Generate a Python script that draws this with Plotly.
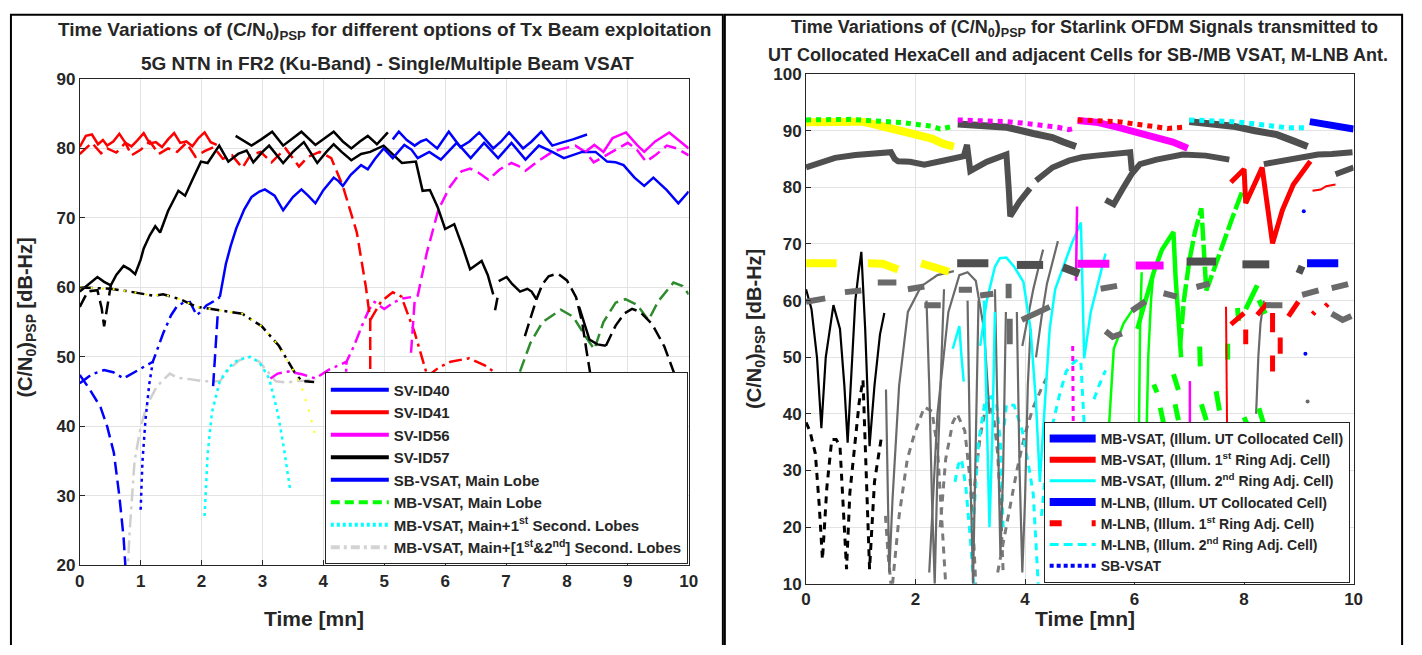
import plotly.graph_objects as go

W, H = 1422, 655
FONT = "Liberation Sans"

# ---------------- LEFT PANEL DATA (Time [mn], C/N0 [dB-Hz]) ----------------
L40_hi_t = [5.14,5.24,5.37,5.5,5.6,5.69,5.87,6.06,6.25,6.4,6.56,6.79,6.92,7.05,7.28,7.42,7.58,7.76,7.9,8.1,8.33]
L40_hi_y = [81.3,82.4,81.2,80.4,81.0,81.3,80.0,82.4,80.2,81.0,82.3,80.0,81.0,82.3,80.0,81.0,82.4,80.4,80.8,81.3,82.0]
L40_sb_t = [2.30,2.35,2.40,2.48,2.57,2.7,2.82,2.95,3.04,3.2,3.34,3.5,3.64,3.75,3.87,4.0,4.17,4.25,4.32,4.45,4.62,4.73,4.85,4.99,5.14,5.33,5.45,5.55,5.74,5.93,6.05,6.19,6.3,6.42,6.64,6.75,6.87,7.09,7.2,7.32,7.54,7.76,7.95,8.1,8.25,8.47,8.66,8.8,8.93,9.11,9.27,9.42,9.64,9.83,10.0]
L40_sb_y = [58.6,61,63.4,66,68.5,71.2,73.0,73.8,74.1,73.2,71.1,73.0,74.1,73.2,72.1,74.0,75.8,75.3,74.6,76.2,77.6,77.0,78.5,80.0,78.6,80.5,79.8,78.6,79.5,78.4,79.5,80.8,79.8,78.6,80.8,79.7,78.6,80.8,79.6,78.4,80.4,79.5,78.6,79.0,79.5,79.5,78.1,78.0,77.6,75.8,74.6,75.8,74.0,72.1,73.8]
L40_dd_t = [0,0.2,0.4,0.55,0.72,0.9,1.05,1.2,1.37,1.5,1.59,1.7,1.81,1.92,2.0,2.08,2.2,2.3]
L40_dd_y = [46.2,47.5,48.1,47.8,46.9,47.8,48.5,49.3,53.4,56,57.2,57.8,57.9,56.0,56.6,57.4,58.0,58.6]
L40_da_t = [0,0.15,0.34,0.45,0.56,0.65,0.72,0.77, None, 2.19,2.27]
L40_da_y = [47.4,45.5,42.8,40,36.2,30,24,17, None, 45.8,56.7]
L40_dot_t = [1.0,1.03,1.08,1.14,1.2]
L40_dot_y = [28,35,41,46,49.3]

L41_sb_t = [0,0.1,0.2,0.3,0.38,0.45,0.55,0.65,0.75,0.85,0.95,1.05,1.15,1.25,1.35,1.45,1.55,1.65,1.75,1.85,1.95,2.05,2.15,2.25]
L41_sb_y = [80.2,81.8,82.0,80.6,81.2,80.4,81.0,82.1,80.8,80.3,81.2,82.2,80.7,80.9,80.2,81.3,82.2,80.8,81.0,80.3,81.5,82.3,80.9,80.5]
L41_da_t = [0,0.2,0.35,0.45,0.6,0.75,0.85,1.0,1.15,1.3,1.45,1.6,1.75,1.9,2.05,2.2,2.35,2.5,2.67,2.8,2.97,3.15,3.38,3.6,3.75,3.94,4.13,4.32,4.55,4.70,4.77,4.77]
L41_da_y = [79.2,80.8,79.3,80.0,79.4,80.8,79.0,79.8,81.0,79.2,80.0,79.5,80.8,78.8,79.6,80.2,78.5,79.0,77.2,79.0,79.5,78.0,80.0,77.4,78.8,79.5,78.6,74.6,67.9,60.0,55.3,44]
L41_dd_t = [4.77,4.95,5.14,5.28,5.5,5.71,5.9,6.09,6.39,6.65,6.9,7.1]
L41_dd_y = [55.3,58,59.3,58.7,53.5,47.2,48.5,49.3,49.8,48.8,47.2,45]

L56_dd_t = [3.13,3.25,3.43,3.65,3.87,4.1,4.38,4.5,4.63,4.75,4.84,5.0,5.17,5.3,5.44]
L56_dd_y = [46.9,47.6,47.9,47.5,46.9,48.2,49.3,51.5,54.4,56.8,57.9,56.9,57.9,58.4,58.6]
L56_dot_t = [4.38,4.36]
L56_dot_y = [49.3,44]
L56_da_t = [5.44,5.47,5.5,5.55,5.7,5.89,6.08,6.27,6.41,6.55,6.71,6.9,7.09,7.2,7.32,7.5,7.76,7.95,8.14,8.3,8.44,8.6,8.74,9.0,9.15,9.3,9.45,9.64,9.8,10.0]
L56_da_y = [50.6,54,58.1,58.8,65,71.2,74.5,76.7,77.1,76.5,75.5,77.0,77.9,77.5,76.8,78.0,79.5,80.0,80.4,79.5,78.0,78.8,79.5,80.8,79.8,78.1,79.0,80.4,80.0,79.0]
L56_sb_t = [8.3,8.45,8.6,8.75,8.97,9.15,9.27,9.45,9.68,9.86,10.0]
L56_sb_y = [79.5,80.5,79.5,81.5,82.3,80.5,79.5,81.0,82.3,81.0,80.0]

L57_sb_t = [0,0.15,0.29,0.4,0.51,0.6,0.72,0.82,0.91,1.0,1.05,1.15,1.24,1.32,1.45,1.62,1.73,1.85,1.99,2.1,2.29,2.44,2.6,2.74,2.85,3.0,3.11,3.34,3.5,3.68,3.9,4.05,4.17,4.3,4.46,4.62,4.77,4.99,5.15,5.29,5.52,5.63,5.75,5.88,6.0,6.15,6.3,6.41,6.6,6.7,6.79]
L57_sb_y = [59.4,60.5,61.5,60.8,60.3,61.8,63.1,62.6,61.9,64,65.6,67.5,68.8,67.9,71,73.9,73.2,75.5,78.1,77.9,80.4,78.1,79.2,79.7,78.0,79.5,80.4,77.9,79.5,80.9,77.9,79.5,80.6,79.5,78.3,79.2,79.5,80.4,79.0,77.9,78.1,73.9,74.0,71.5,68.4,69.1,65.5,62.6,63.8,61.8,59.0]
L57_hi_t = [2.56,2.7,2.82,2.98,3.16,3.34,3.5,3.64,3.87,4.02,4.17,4.32,4.46,4.6,4.73,4.88,5.06]
L57_hi_y = [81.8,81.0,80.4,81.3,82.4,80.4,81.5,82.4,80.5,81.5,82.4,81.0,80.0,81.0,81.8,80.6,82.3]
L57_lo_t = [6.88,7.01,7.1,7.23,7.35,7.42,7.5, None, 8.2,8.37,8.5,8.64]
L57_lo_y = [60.9,61.5,60.5,59.4,59.8,59.4,58.3, None, 57.2,52.5,51.8,51.6]
L57_da_t = [0,0.13,0.29,0.36,0.4,0.45,0.51, None, 6.82,6.86, None, 7.31,7.38,7.45,7.5,7.6,7.7,7.85,8.0,8.15,8.25,8.32,8.39,8.45, None, 8.64,8.8,8.95,9.07,9.2,9.4,9.6,9.78,9.85]
L57_da_y = [57.2,59.4,59.6,57,54.4,57,60.3, None, 56.7,58.5, None, 53,55,57,58.3,60.5,61.6,62.0,61.0,58.6,55,51,47.2,44, None, 51.6,54.5,56.3,56.9,56.5,54.7,51.5,47.2,45]
L57_dd_t = [0,0.25,0.51,0.82,1.21,1.37,1.65,1.92,2.3,2.67,2.99,3.27,3.54,3.65,3.85]
L57_dd_y = [60,59.9,59.8,59.4,58.8,59,58.3,57.2,56.7,56.2,54.4,51.6,47.6,46.5,46.4]
LY_dot_t = [0,0.25,0.51,0.82,1.21,1.37,1.65,1.92,2.3,2.67,2.99,3.27,3.54,3.65,3.77,3.87]
LY_dot_y = [60,59.9,59.8,59.4,58.8,59,58.3,57.2,56.7,56.2,54.4,51.6,47.6,45.5,42,38.6]

LC_dot_t = [2.05,2.1,2.17,2.3,2.45,2.6,2.8,2.95,3.11,3.25,3.35,3.46]
LC_dot_y = [27.1,36,42,46.5,48.5,49.6,50,49.2,46.9,42,37,30.6]
LG_dd_t = [0.78,0.82,0.9,1.0,1.1,1.27,1.48,1.6,1.8,2.02,2.3,2.46,2.62,2.78,2.95,3.05,3.22,3.4,3.54,3.7,3.87]
LG_dd_y = [18,25,35,39.9,43,45.8,47.6,47,46.8,46.5,46.5,48.3,49.5,50,49.3,48.3,46.5,46.3,46.5,46.6,46.8]
LDG_da_t = [6.95,7.2,7.4,7.6,7.9,8.1,8.3,8.45,8.6,8.8,8.96,9.15,9.34,9.5,9.75,9.9,10.0]
LDG_da_y = [43,47.2,52,55,56.8,55.8,53,51.1,55,57.8,58.3,57.5,55.3,58,60.7,60.2,59]
LLG_t = [8.92,8.97]
LLG_y = [47.2,47.7]

L_legend_names = ["SV-ID40", "SV-ID41", "SV-ID56", "SV-ID57", "SB-VSAT, Main Lobe", "MB-VSAT, Main Lobe",
                  "MB-VSAT, Main+1<sup>st</sup> Second. Lobes",
                  "MB-VSAT, Main+[1<sup>st</sup>&amp;2<sup>nd</sup>] Second. Lobes"]

# ---------------- RIGHT PANEL DATA ----------------
R_gdot_t = [0,0.4,0.8,1.13,1.5,1.8,2.1,2.3,2.45,2.6,2.7]
R_gdot_y = [91.9,92.0,92.0,91.8,91.6,91.4,91.0,90.8,90.3,90.5,90.8]
R_ytop_t = [0,0.5,1.0,1.13,1.4,1.7,2.0,2.3,2.5,2.7]
R_ytop_y = [91.5,91.7,91.6,91.4,90.8,90.0,89.2,88.6,87.7,87.2]
R_gtop1_t = [2.77,3.2,3.67,4.15,4.5,4.7,4.93]
R_gtop1_y = [91.2,91.0,90.6,89.5,88.8,88.0,87.2]
R_mdot_t = [2.77,3.2,3.67,4.0,4.3,4.6,4.8,4.93]
R_mdot_y = [91.9,91.8,91.6,91.3,91.0,90.6,90.2,90.5]
R_rdot_t = [4.96,5.3,5.7,6.0,6.3,6.6,6.88]
R_rdot_y = [91.9,91.8,91.6,91.2,90.8,90.4,90.6]
R_mtop_t = [4.96,5.3,5.7,6.0,6.4,6.7,6.97]
R_mtop_y = [91.8,91.5,90.6,89.8,89.0,88.0,86.9]
R_cdot_t = [7.0,7.4,7.8,8.2,8.5,8.8,9.1]
R_cdot_y = [91.9,91.8,91.6,91.2,90.9,90.5,90.5]
R_gtop2_t = [7.0,7.4,7.8,8.2,8.6,8.9,9.16]
R_gtop2_y = [91.6,91.3,90.8,90.0,89.3,88.2,87.2]
R_btop_t = [9.2,9.5,9.8,10.0]
R_btop_y = [91.6,91.2,90.8,90.3]

R_band_t = [0,0.3,0.53,0.9,1.2,1.55,1.62,1.68,1.9,2.16,2.5,2.88,2.94,3.0,3.3,3.5,3.66,3.7,3.73,3.9,4.09, None,
            4.2,4.5,4.8,5.04,5.3,5.6,5.92,5.95, None,
            5.47,5.55,5.62,5.8,5.95,6.1,6.4,6.88,7.3,7.73, None,
            8.36,8.8,9.1,9.35,9.6,9.98, None, 9.67,9.8,10.0]
R_band_y = [83.5,84.5,85.2,85.7,85.9,86.2,85.0,84.6,84.5,84.0,84.7,85.5,87.5,82.9,84.5,85.3,85.8,80,74.9,77.5,79.8, None,
            81.2,83.5,84.7,85.3,85.6,85.9,86.2,82.9, None,
            77.8,77.2,77.0,80,82.4,84.1,84.9,85.8,85.6,84.9, None,
            84.1,84.9,85.4,85.8,85.9,86.2, None, 82.3,82.8,83.5]

R_red_t = [7.76,8.0,8.03,8.33,8.52,8.7,8.9,9.21]
R_red_y = [80.9,83.2,77.2,83.5,70.1,76,80.5,84.6]
R_redthin_t = [9.25,9.4,9.5,9.67, None, 7.67,7.68,7.69]
R_redthin_y = [79.4,79.6,80.2,80.5, None, 58.9,48,37]
R_redda_t = [7.76,8.0, None, 8.03,8.03, None, 8.24,8.42, None, 8.52,8.52, None, 8.66,8.66, None, 8.52,8.52, None, 8.81,8.99, None, 9.25,9.29, None, 9.49,9.53]
R_redda_y = [55.8,57.8, None, 54.9,52.3, None, 57.5,59.5, None, 57.8,54.4, None, 53.5,50.6, None, 50.3,47.5, None, 57.2,59.8, None, 57.6,58.0, None, 59.0,59.4]

R_gr_a_t = [6.05,6.2,6.35,6.5,6.71,6.75,6.8,6.85]
R_gr_a_y = [55,60,65,69,72.1,64,56,50]
R_gr_b_t = [6.83,6.9,7.0,7.1,7.22,7.26,7.31,7.45,7.61,7.8,7.97]
R_gr_b_y = [52,60,67,72,76.3,68,61.8,65.5,70.1,75,79.4]
R_gr_thin_t = [5.53,5.58,5.62,5.8,6.0, None, 6.08,6.1,6.13, None, 6.22,6.25,6.3,6.35]
R_gr_thin_y = [37.3,45,51.5,56,58.9, None, 37,55,65, None, 37,50,60,65.5]
R_gr_da_t = [6.35,6.41, None, 6.71,6.8, None, 7.19,7.2, None, 7.7,7.7, None, 7.88,7.9, None, 6.47,6.53, None, 6.74,6.8, None, 7.22,7.31, None, 7.49,7.55, None, 8.0,8.1, None, 8.27,8.39, None, 8.03,8.24, None, 8.27,8.39]
R_gr_da_y = [45.2,43.8, None, 47,44.2, None, 51.9,48.4, None, 52.4,49.6, None, 58.7,56.4, None, 41.1,38.3, None, 41.7,38.9, None, 41.7,38.9, None, 44,40.6, None, 39.4,37.2, None, 41,37.2, None, 58.5,62.7, None, 60.1,57.7]

R_ybar_t = [0,0.56, None, 1.13,1.4,1.68, None, 2.1,2.35,2.61]
R_ybar_y = [66.6,66.6, None, 66.6,66.5,65.5, None, 66.6,65.8,65.1]
R_gbar_t = [2.76,3.33, None, 3.85,4.33, None, 4.69,4.99, None, 6.95,7.49, None, 7.97,8.46, None, 8.97,9.09]
R_gbar_y = [66.6,66.6, None, 66.3,66.3, None, 65.9,64.8, None, 66.9,66.9, None, 66.4,66.4, None, 65.7,65.2]
R_mbar_t = [4.96,5.54, None, 6.02,6.53]
R_mbar_y = [66.5,66.5, None, 66.2,66.2]
R_bbar_t = [9.15,9.72]
R_bbar_y = [66.6,66.6]

R_gdash_t = [0,0.35, None, 0.71,1.01, None, 1.31,1.65, None, 1.86,2.16, None, 2.16,2.46, None, 2.79,3.03, None, 3.18,3.42, None, 3.7,3.7, None, 3.72,3.72, None, 3.94,4.45,
             None, 5.38,5.68, None, 5.47,5.6,5.77, None, 5.95,6.2, None, 6.53,6.77, None, 7.13,7.37, None, 8.4,8.7, None, 9.06,9.36, None, 9.6,9.9, None, 9.6,9.8,9.96]
R_gdash_y = [59.8,60.4, None, 61.5,61.8, None, 63.2,63.2, None, 62.0,62.5, None, 59.2,59.2, None, 61.9,61.9, None, 60.9,61.2, None, 63,60.4, None, 56.8,52.3, None, 56.6,58.9,
             None, 62.1,62.6, None, 54.6,53.6,54.2, None, 58.2,59.9, None, 61.3,60.7, None, 62.4,63.0, None, 59.2,59.2, None, 61.0,61.8, None, 62.2,62.9, None, 57.7,56.6,57.3]

R_blk_t = [0,0.1,0.2,0.28,0.36,0.5,0.62,0.7,0.76,0.82,0.9,0.96,1.01,1.08,1.16,1.25,1.35,1.43]
R_blk_y = [62,58.5,50,37.5,50,59.2,55,45,34.9,45,60,65,68.6,55,34.3,45,54,57.8]
R_blkda_t = [0.0,0.07,0.17,0.24,0.3,0.38,0.47,0.55,0.62,0.68,0.74,0.8,0.89,0.97,1.04,1.1,1.16,1.25,1.37]
R_blkda_y = [38.5,37,33,24,14.3,27,35.5,35.5,34.3,24,12.6,26,34.3,42,46,30,12.6,28,35.5]

R_gsol_t = [1.46,1.5,1.52,1.58,1.7,1.86,2.1,2.4,2.7, None,
            2.25,2.4,2.6,2.8,2.95,3.1,3.25,3.35, None,
            2.2,2.25,2.3,2.35,2.4,2.5,2.52, None,
            2.95,3.0,3.05,3.1,3.15, None,
            3.45,3.5,3.55,3.6,3.65, None,
            3.85,3.9,3.95,4.0,4.05,4.1, None,
            3.95,4.05,4.15,4.25,4.33, None,
            4.2,4.3,4.4,4.5,4.6, None,
            8.22,8.26,8.3,8.36]
R_gsol_y = [44.3,25,12,25,45,58,62.5,64.5,65.2, None,
            12,40,58,64.5,65,63.5,55,40, None,
            60,45,25,10,30,55,62, None,
            60,30,10,35,60, None,
            62,35,15,30,58, None,
            58,30,12,25,45,55, None,
            52,57,62,66,69, None,
            50,57,63,67,70.5, None,
            40,50,56,60]

R_cyan_t = [3.18,3.3,3.45,3.54,3.66,3.8,3.97,4.1,4.2,4.27,4.35,4.45,4.55,4.7,4.85,5.02,5.05,5.08,5.2,5.35,5.47, None,
            2.68,2.75,2.8,2.84,2.88, None,
            3.25,3.3,3.35,3.4,3.45]
R_cyan_y = [52,60,66,67.5,67.6,66,63.3,55,42,28,40,55,62,66,70,73.8,62,49.8,58,64,68.3, None,
            51.5,54,55.5,50,45.7, None,
            60,40,20,35,58]
R_cyda_t = [2.72,2.78,2.84,2.92,3.0,3.06, None, 3.05,3.15,3.27,3.38,3.48,3.55,3.6, None, 3.62,3.66,3.8,3.95,4.08,4.15,4.24, None,
            4.3,4.4,4.51,4.62,4.75,4.88,4.99, None, 5.02,5.05,5.08, None, 5.26,5.35,5.47]
R_cyda_y = [28,31,32,27,18,10, None, 20,35,42.3,43,41.7,35,20, None, 38,41.7,41.5,37,30,25.8,10, None,
            22,32,38.4,43,47.5,49,49.8, None, 49,43,38, None, 42.6,45,47.7]
R_gda_t = [1.45,1.5,1.55, None, 1.58,1.7,1.85,1.98,2.16,2.3,2.4,2.48,2.55, None, 2.45,2.55,2.68,2.76,2.9,3.0,3.06,3.1, None,
           3.05,3.18,3.3,3.42,3.5,3.56,3.6, None, 3.5,3.65,3.85,4.0,4.15,4.3,4.39]
R_gda_y = [22,15,10, None, 10,22,32,36.5,41.2,40.5,34,22,10, None, 20,32,38.5,40,37,28,18,10, None,
           25,36,42,40,33,22,12, None, 12,20,30,36.5,41.2,44.5,46.3]
R_mag_t = [4.93,4.94,4.95, None, 7.01,7.01]
R_mag_y = [63.5,70,76.6, None, 45.8,37.2]
R_magda_t = [4.87,4.88]
R_magda_y = [52,37.8]
R_bdot_t = [9.09,9.12]
R_bdot_y = [75.8,50.6]
R_gdot2_t = [9.16]
R_gdot2_y = [42.2]

R_legend_names = ["MB-VSAT, (Illum. UT Collocated Cell)",
                  "MB-VSAT, (Illum. 1<sup>st</sup> Ring Adj. Cell)",
                  "MB-VSAT, (Illum. 2<sup>nd</sup> Ring Adj. Cell)",
                  "M-LNB, (Illum. UT Collocated Cell)",
                  "M-LNB, (Illum. 1<sup>st</sup> Ring Adj. Cell)",
                  "M-LNB, (Illum. 2<sup>nd</sup> Ring Adj. Cell)",
                  "SB-VSAT"]

# ---------------- FIGURE ----------------
fig = go.Figure()

DASH = "13px,6px"
DOT = "3px,4px"
DDOT = "13px,5px,3px,5px"

def add(x, y, color, width, dash="solid", ax=1, mode="lines"):
    fig.add_trace(go.Scatter(x=x, y=y, mode=mode, line=dict(color=color, width=width, dash=dash),
                             marker=dict(color=color, size=width),
                             xaxis="x" if ax == 1 else "x2", yaxis="y" if ax == 1 else "y2",
                             showlegend=False, hoverinfo="skip", connectgaps=False))

BLUE, RED, MAG, BLK = "#0000ff", "#ff0000", "#ff00ff", "#000000"
# left panel
add(LG_dd_t, LG_dd_y, "#cfcfcf", 2.5, DDOT)
add(LC_dot_t, LC_dot_y, "#00ffff", 2.5, DOT)
add(L40_dd_t, L40_dd_y, BLUE, 2.5, DDOT)
add(L40_da_t, L40_da_y, BLUE, 2.5, DASH)
add(L40_dot_t, L40_dot_y, BLUE, 2.5, DOT)
add(L57_dd_t, L57_dd_y, BLK, 2.5, DDOT)
add(LY_dot_t, LY_dot_y, "#ffff00", 2, "2px,9px")
add(L56_dd_t, L56_dd_y, MAG, 2.5, DDOT)
add(L56_dot_t, L56_dot_y, MAG, 2.5, DOT)
add(L41_dd_t, L41_dd_y, RED, 2.5, DDOT)
add(LDG_da_t, LDG_da_y, "#2e8b2e", 2.5, DASH)
add(L57_da_t, L57_da_y, BLK, 2.5, DASH)
add(L57_lo_t, L57_lo_y, BLK, 2.5)
add(L56_da_t, L56_da_y, MAG, 2.5, DASH)
add(L41_da_t, L41_da_y, RED, 2.5, DASH)
add(L57_sb_t, L57_sb_y, BLK, 2.5)
add(L40_sb_t, L40_sb_y, BLUE, 2.5)
add(L40_hi_t, L40_hi_y, BLUE, 2.5)
add(L57_hi_t, L57_hi_y, BLK, 2.5)
add(L41_sb_t, L41_sb_y, RED, 2.5)
add(L56_sb_t, L56_sb_y, MAG, 2.5)
add(LLG_t, LLG_y, "#33ff33", 4)

# right panel
G1, G2, G3 = "#4f4f4f", "#6a6a6a", "#7a7a7a"
add(R_blkda_t, R_blkda_y, BLK, 3, "7px,6px", 2)
add(R_gda_t, R_gda_y, G3, 3, "7px,6px", 2)
add(R_cyda_t, R_cyda_y, "#00ffff", 3, "7px,6px", 2)
add(R_gsol_t, R_gsol_y, G2, 2.2, "solid", 2)
add(R_blk_t, R_blk_y, BLK, 2.2, "solid", 2)
add(R_cyan_t, R_cyan_y, "#00ffff", 2.5, "solid", 2)
add(R_magda_t, R_magda_y, MAG, 3, "5px,5px", 2)
add(R_mag_t, R_mag_y, MAG, 2.5, "solid", 2)
add(R_gr_thin_t, R_gr_thin_y, "#00ff00", 2.5, "solid", 2)
add(R_gr_da_t, R_gr_da_y, "#00ff00", 5, "solid", 2)
add(R_gr_a_t, R_gr_a_y, "#00ff00", 4.5, "solid", 2)
add(R_gr_b_t, R_gr_b_y, "#00ff00", 4.5, "18px,4px", 2)
add(R_redthin_t, R_redthin_y, RED, 2, "solid", 2)
add(R_redda_t, R_redda_y, RED, 5, "solid", 2)
add(R_red_t, R_red_y, RED, 5, "solid", 2)
add(R_gdash_t, R_gdash_y, G2, 6, "solid", 2)
add(R_band_t, R_band_y, G1, 6, "solid", 2)
add(R_ybar_t, R_ybar_y, "#ffff00", 8, "solid", 2)
add(R_gbar_t, R_gbar_y, G1, 8, "solid", 2)
add(R_mbar_t, R_mbar_y, MAG, 8, "solid", 2)
add(R_bbar_t, R_bbar_y, BLUE, 8, "solid", 2)
add(R_ytop_t, R_ytop_y, "#ffff00", 8, "solid", 2)
add(R_gtop1_t, R_gtop1_y, G1, 7, "solid", 2)
add(R_mtop_t, R_mtop_y, MAG, 7, "solid", 2)
add(R_gtop2_t, R_gtop2_y, G1, 7, "solid", 2)
add(R_btop_t, R_btop_y, BLUE, 7, "solid", 2)
add(R_gdot_t, R_gdot_y, "#00ff00", 5, "5px,5px", 2)
add(R_mdot_t, R_mdot_y, MAG, 5, "5px,5px", 2)
add(R_rdot_t, R_rdot_y, RED, 5, "5px,5px", 2)
add(R_cdot_t, R_cdot_y, "#00ffff", 5, "5px,5px", 2)
add(R_bdot_t, R_bdot_y, BLUE, 4, "solid", 2, "markers")
add(R_gdot2_t, R_gdot2_y, G2, 4, "solid", 2, "markers")

# legend entries
L_leg_style = [(BLUE, "solid"), (RED, "solid"), (MAG, "solid"), (BLK, "solid"), (BLUE, "solid"),
               ("#00ff00", "9px,5px"), ("#00ffff", "3px,3px"), ("#d3d3d3", "9px,4px,3px,4px")]
for i, (nm, (c, d)) in enumerate(zip(L_legend_names, L_leg_style)):
    fig.add_trace(go.Scatter(x=[None], y=[None], mode="lines", name=nm, legend="legend",
                             legendgroup="l%d" % i, line=dict(color=c, width=4, dash=d),
                             xaxis="x", yaxis="y"))
R_leg_style = [(BLUE, "solid", 8), (RED, "solid", 6), ("#00ffff", "solid", 3), (BLUE, "solid", 8),
               (RED, "12px,30px", 6), ("#00ffff", "9px,5px", 3), (BLUE, "4px,3px", 4)]
for i, (nm, (c, d, w)) in enumerate(zip(R_legend_names, R_leg_style)):
    fig.add_trace(go.Scatter(x=[None], y=[None], mode="lines", name=nm, legend="legend2",
                             legendgroup="r%d" % i, line=dict(color=c, width=w, dash=d),
                             xaxis="x2", yaxis="y2"))

def px_x(p): return p / W
def px_y(p): return 1 - p / H

axis_common = dict(showline=True, linecolor="#262626", linewidth=1, mirror=True, ticks="inside",
                   ticklen=5, tickcolor="#262626", showgrid=True, gridcolor="#e3e3e3", gridwidth=1,
                   zeroline=False, tickfont=dict(family=FONT, size=17, color="#262626", weight="bold"))

fig.update_layout(
    width=W, height=H, margin=dict(l=0, r=0, t=0, b=0), plot_bgcolor="white", paper_bgcolor="white",
    xaxis=dict(domain=[px_x(75.5), px_x(690.5)], range=[0, 10], dtick=1, anchor="y", **axis_common),
    yaxis=dict(domain=[px_y(573), px_y(72)], range=[20, 90], dtick=10, anchor="x", **axis_common),
    xaxis2=dict(domain=[px_x(809), px_x(1362)], range=[0, 10], dtick=2, anchor="y2", **axis_common),
    yaxis2=dict(domain=[px_y(592), px_y(67)], range=[10, 100], dtick=10, anchor="x2", **axis_common),
    legend=dict(x=px_x(323), y=px_y(572), xanchor="left", yanchor="bottom", bgcolor="white",
                bordercolor="#262626", borderwidth=1, itemwidth=58, tracegroupgap=0,
                font=dict(family=FONT, size=15, color="#262626", weight="bold")),
    legend2=dict(x=px_x(1049), y=px_y(591), xanchor="left", yanchor="bottom", bgcolor="white",
                 bordercolor="#262626", borderwidth=1, itemwidth=46, tracegroupgap=0,
                 font=dict(family=FONT, size=14, color="#262626", weight="bold")),
    showlegend=True,
)

TF = dict(family=FONT, size=19, color="#262626", weight="bold")
TF2 = dict(family=FONT, size=18, color="#262626", weight="bold")
AF = dict(family=FONT, size=21, color="#262626", weight="bold")
YF = dict(family=FONT, size=20, color="#262626", weight="bold")
ann = [
    (383, 23, "Time Variations of (C/N<sub>0</sub>)<sub>PSP</sub> for different options of Tx Beam exploitation", 0, TF),
    (386, 56, "5G NTN in FR2 (Ku-Band) - Single/Multiple Beam VSAT", 0, TF),
    (1090, 20, "Time Variations of (C/N<sub>0</sub>)<sub>PSP</sub> for Starlink OFDM Signals transmitted to", 0, TF2),
    (1084, 47, "UT Collocated HexaCell and adjacent Cells for SB-/MB VSAT, M-LNB Ant.", 0, TF2),
    (312, 628, "Time [mn]", 0, AF),
    (1091, 628, "Time [mn]", 0, AF),
    (22, 318, "(C/N<sub>0</sub>)<sub>PSP</sub> [dB-Hz]", -90, YF),
    (758, 330, "(C/N<sub>0</sub>)<sub>PSP</sub> [dB-Hz]", -90, YF),
]
for x, y, t, a, f in ann:
    fig.add_annotation(x=px_x(x), y=px_y(y), xref="paper", yref="paper", text=t, showarrow=False,
                       textangle=a, xanchor="center", yanchor="middle", font=f)

# panel frames (open at the bottom)
for x0, x1 in [(6, 725), (727, 1411)]:
    fig.add_shape(type="path", xref="paper", yref="paper",
                  path="M %f,%f L %f,%f L %f,%f L %f,%f" % (px_x(x0), 0, px_x(x0), px_y(6), px_x(x1), px_y(6), px_x(x1), 0),
                  line=dict(color="black", width=2))

fig.write_html("out.html")
